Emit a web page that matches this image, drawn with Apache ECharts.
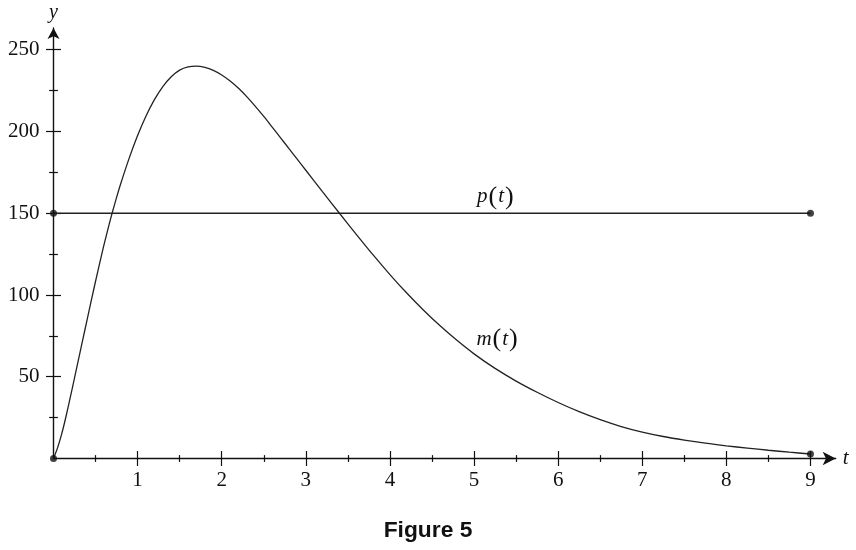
<!DOCTYPE html>
<html>
<head>
<meta charset="utf-8">
<script src="https://cdn.jsdelivr.net/npm/echarts@6.0.0/dist/echarts.min.js"></script>
<style>
html,body{margin:0;padding:0;background:#fff;}
#chart{width:856px;height:550px;}
</style>
</head>
<body>
<div id="chart"></div>
<script>
// ---- data ----
var tValues = [0, 0.05, 0.1, 0.15, 0.2, 0.25, 0.3, 0.35, 0.4, 0.45, 0.5, 0.55, 0.6, 0.65, 0.7, 0.75, 0.8, 0.9, 1.0, 1.1, 1.2, 1.3, 1.4, 1.5, 1.6, 1.7, 1.8, 1.9, 2.0, 2.1, 2.2, 2.3, 2.4, 2.5, 2.6, 2.7, 2.8, 2.9, 3.0, 3.2, 3.4, 3.6, 3.8, 4.0, 4.2, 4.4, 4.6, 4.8, 5.0, 5.25, 5.5, 5.75, 6.0, 6.25, 6.5, 6.75, 7.0, 7.25, 7.5, 7.75, 8.0, 8.25, 8.5, 8.75, 9.0];
var mValues = [0, 6.8, 15.5, 26, 37.5, 49.3, 61.2, 73.1, 85, 96.8, 108.4, 119.7, 130.6, 140.9, 150.6, 159.7, 168.2, 183.7, 197.5, 209.5, 219.5, 227.5, 233.5, 237.5, 239.5, 240, 239.2, 237.4, 234.6, 230.9, 226.4, 221.2, 215.4, 209.2, 202.7, 196.1, 189.5, 182.9, 176.3, 163.1, 150, 137.1, 124.5, 112.5, 101.2, 90.7, 81, 72.1, 64, 55.1, 47.35, 40.5, 34.25, 28.65, 23.75, 19.55, 16.15, 13.45, 11.25, 9.35, 7.75, 6.35, 5.05, 3.85, 2.75];
var pT = [0, 9];
var pValues = [150, 150];
var xMajorTicks = [1, 2, 3, 4, 5, 6, 7, 8, 9];
var xMinorTicks = [0.5, 1.5, 2.5, 3.5, 4.5, 5.5, 6.5, 7.5, 8.5];
var yMajorTicks = [50, 100, 150, 200, 250];
var yMinorTicks = [25, 75, 125, 175, 225];
var labelP = [5.26, 160];
var labelM = [5.28, 72.7];

var mData = tValues.map(function (t, i) { return [t, mValues[i]]; });
var pData = pT.map(function (t, i) { return [t, pValues[i]]; });
var dots = [mData[0], mData[mData.length - 1], pData[0], pData[pData.length - 1]];

var serif = '"Liberation Serif", "Times New Roman", serif';
var ink = '#111';

function xAx(ticks, len, inside, main) {
  return {
    type: 'value', position: 'bottom', min: 0, max: 9.3,
    axisLine: main ? { show: true, onZero: false, symbol: ['none', 'arrow'], symbolSize: [10, 13], lineStyle: { color: ink, width: 1.4 } } : { show: false },
    axisTick: { show: true, inside: inside, length: len, customValues: ticks, lineStyle: { color: ink, width: 1.2 } },
    axisLabel: main ? { show: true, customValues: xMajorTicks, margin: 11, color: ink, fontFamily: serif, fontSize: 21 } : { show: false },
    splitLine: { show: false },
    name: main ? 't' : '', nameLocation: 'end', nameGap: 7,
    nameTextStyle: { fontFamily: serif, fontStyle: 'italic', fontSize: 21, color: ink }
  };
}
function yAx(ticks, len, inside, main) {
  return {
    type: 'value', position: 'left', min: 0, max: 263.3,
    axisLine: main ? { show: true, onZero: false, symbol: ['none', 'arrow'], symbolSize: [9, 11], lineStyle: { color: ink, width: 1.4 } } : { show: false },
    axisTick: { show: true, inside: inside, length: len, customValues: ticks, lineStyle: { color: ink, width: 1.2 } },
    axisLabel: main ? { show: true, customValues: yMajorTicks, margin: 14, color: ink, fontFamily: serif, fontSize: 21 } : { show: false },
    splitLine: { show: false },
    name: main ? 'y' : '', nameLocation: 'end', nameGap: 5,
    nameTextStyle: { fontFamily: serif, fontStyle: 'italic', fontSize: 20, color: ink }
  };
}

var richLbl = {
  i: { fontFamily: serif, fontStyle: 'italic', fontSize: 21, color: ink },
  r: { fontFamily: serif, fontSize: 26, color: ink, padding: [0, 1] }
};
function lbl(letter) {
  return {
    show: true, position: 'inside',
    formatter: '{i|' + letter + '}{r|(}{i|t}{r|)}',
    rich: richLbl
  };
}

var chart = echarts.init(document.getElementById('chart'), null, { renderer: 'canvas' });
chart.setOption({
  animation: false,
  backgroundColor: '#fff',
  title: {
    text: 'Figure 5', left: 'center', top: 514,
    textStyle: { fontFamily: '"Liberation Sans", Arial, sans-serif', fontWeight: 'bold', fontSize: 22.8, color: ink }
  },
  grid: { left: 53.5, right: 20.3, top: 28, bottom: 91.5, outerBoundsMode: 'none' },
  xAxis: [
    xAx(xMajorTicks, 7.5, false, true),
    xAx(xMajorTicks, 7.5, true, false),
    xAx(xMinorTicks, 3.4, false, false),
    xAx(xMinorTicks, 3.4, true, false)
  ],
  yAxis: [
    yAx(yMajorTicks, 7.5, false, true),
    yAx(yMajorTicks, 7.5, true, false),
    yAx(yMinorTicks, 4.4, false, false),
    yAx(yMinorTicks, 4.4, true, false)
  ],
  series: [
    {
      name: 'm(t)', type: 'line', data: mData, smooth: 0.3,
      showSymbol: false, lineStyle: { color: '#222', width: 1.3 },
      markPoint: {
        symbol: 'circle', symbolSize: 1, itemStyle: { color: 'rgba(0,0,0,0)' },
        data: [{ coord: labelM, label: lbl('m') }]
      }
    },
    {
      name: 'p(t)', type: 'line', data: pData,
      showSymbol: false, lineStyle: { color: '#222', width: 1.3 },
      markPoint: {
        symbol: 'circle', symbolSize: 1, itemStyle: { color: 'rgba(0,0,0,0)' },
        data: [{ coord: labelP, label: lbl('p') }]
      }
    },
    {
      type: 'scatter', data: dots, symbolSize: 7, itemStyle: { color: ink }, z: 5
    }
  ]
});
</script>
</body>
</html>
